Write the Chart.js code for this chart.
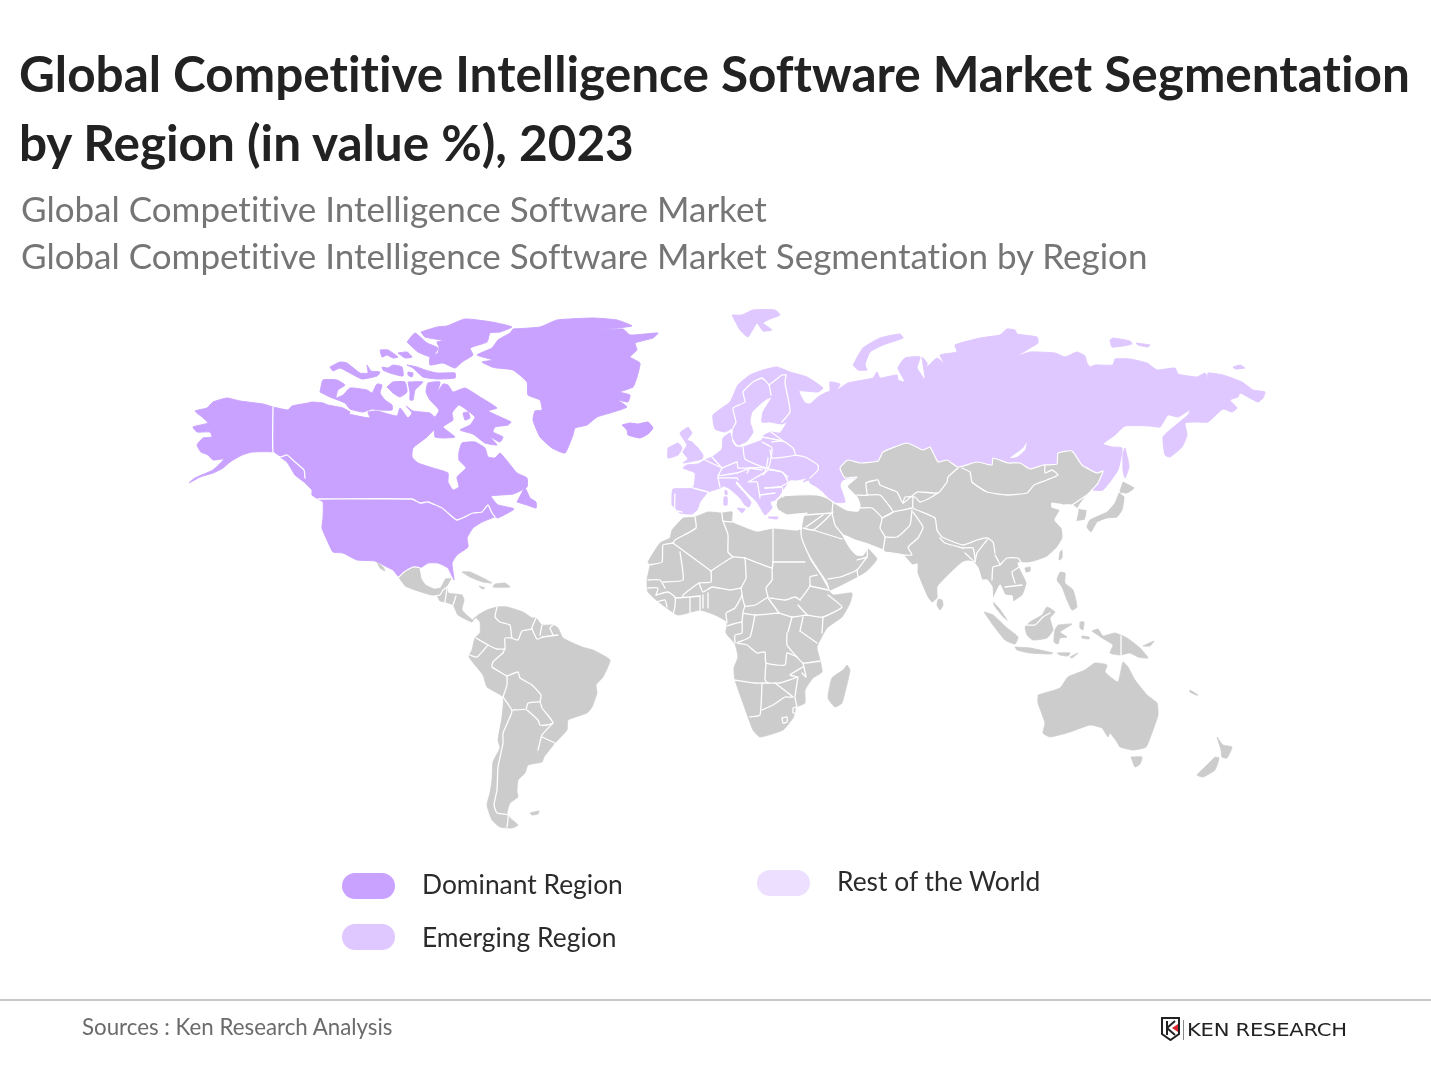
<!DOCTYPE html>
<html lang="en">
<head>
<meta charset="utf-8">
<title>Global Competitive Intelligence Software Market Segmentation by Region</title>
<script src="https://cdn.jsdelivr.net/npm/chart.js@4/dist/chart.umd.js"></script>
<style>
  html, body { margin: 0; padding: 0; background: #fff; }
  body { position: relative; width: 1431px; height: 1073px; overflow: hidden; font-family: Lato, sans-serif; font-variant-ligatures: none; }
  #map { position: absolute; left: 0; top: 0; }
  .txt { position: absolute; white-space: nowrap; }
  #title { left: 19px; top: 39px; font-size: 49.5px; line-height: 69px; font-weight: 700; color: #222; }
  #subtitle { left: 21px; top: 185px; font-size: 35px; line-height: 47px; color: #757575; }
  .pill { position: absolute; width: 53px; height: 26px; border-radius: 13px; }
  .legend-label { font-size: 26.4px; line-height: 32px; color: #2b2b2b; }
  #rule { position: absolute; left: 0; top: 999px; width: 1431px; height: 2px; background: #c8c8c8; }
  #source { left: 82px; top: 1013px; font-size: 22.3px; line-height: 28px; color: #6b6b6b; }
  #brand { left: 1187px; top: 1018px; font-family: "DejaVu Sans", sans-serif; font-size: 17px; line-height: 24px; color: #222; letter-spacing: -0.2px; transform-origin: left center; transform: scaleX(1.24); }
  #shield { position: absolute; left: 1161px; top: 1017px; }
  #sep { position: absolute; left: 1183px; top: 1020px; width: 1px; height: 20px; background: #888; }
</style>
</head>
<body>
<canvas id="map" width="1431" height="1073"></canvas>
<div class="txt" id="title">Global Competitive Intelligence Software Market Segmentation<br>by Region (in value %), 2023</div>
<div class="txt" id="subtitle">Global Competitive Intelligence Software Market<br>Global Competitive Intelligence Software Market Segmentation by Region</div>
<div id="legend"></div>
<div id="rule"></div>
<div class="txt" id="source">Sources : Ken Research Analysis</div>
<svg id="shield" width="20" height="24" viewBox="0 0 20 24">
  <path d="M1 1 H18 V17 L9.5 23 L1 17 Z" fill="#fff" stroke="#222" stroke-width="2"/>
  <path d="M6 4 V18 M6 11 L14 4 M6 11 L14 18" fill="none" stroke="#222" stroke-width="2"/>
  <path d="M17 7 L11 11 L17 15 Z" fill="#d8232a"/>
</svg>
<div id="sep"></div>
<div class="txt" id="brand">KEN RESEARCH</div>

<script>
// ── Legend ───────────────────────────────────────────────────
const legendLabels = ['Dominant Region', 'Emerging Region', 'Rest of the World'];
const legendColors = ['#c9a2ff', '#dfc7ff', '#ecdfff'];
const landGrey = '#cccccc';

// ── Outlines (map units) ─────────────────────────────────────
const northAmerica = [[273,407],[288,410],[292,406],[308,403],[312,402],[323,403],[328,405],[343,408],[350,412],[349,414],[370,418],[368,412],[377,411],[397,416],[400,408],[408,418],[412,413],[406,406],[413,411],[430,413],[435,417],[439,410],[430,400],[426,392],[428,383],[440,382],[437,393],[443,384],[448,385],[453,392],[465,388],[480,397],[497,408],[488,411],[511,422],[508,425],[495,427],[493,432],[503,437],[500,442],[490,437],[497,445],[485,443],[473,434],[460,430],[470,425],[475,417],[459,405],[452,413],[453,420],[443,427],[455,437],[443,438],[435,437],[434,430],[427,437],[413,448],[412,457],[418,463],[433,468],[448,473],[448,482],[453,490],[459,487],[457,477],[466,468],[459,460],[459,452],[462,443],[475,442],[485,448],[488,457],[495,458],[500,453],[508,462],[517,473],[527,478],[527,487],[513,494],[491,496],[495,502],[498,505],[514,509],[498,518],[495,517],[482,522],[473,528],[467,538],[468,547],[457,555],[452,563],[454,580],[448,568],[438,563],[428,563],[420,568],[413,567],[404,572],[400,578],[393,570],[387,567],[375,561],[357,560],[343,553],[333,552],[327,540],[322,528],[323,518],[323,502],[318,499],[312,495],[312,490],[304,482],[295,475],[287,462],[280,457],[273,452],[252,452],[242,455],[230,462],[223,468],[213,473],[200,477],[189,483],[195,478],[213,470],[224,459],[213,460],[208,455],[201,452],[197,445],[203,438],[212,437],[210,432],[197,432],[193,427],[208,423],[202,417],[195,411],[207,408],[213,402],[227,398],[240,401],[263,404]];
const foxeIsland = [[463,413],[468,412],[470,418],[465,420]];
const banksVictoria = [[320,392],[323,380],[337,380],[345,385],[338,390],[336,398],[343,395],[350,388],[367,390],[372,393],[377,384],[382,385],[380,393],[385,400],[392,405],[392,410],[380,410],[372,409],[363,412],[350,409],[345,403],[330,397]];
const princeOfWales = [[387,387],[393,382],[405,382],[407,392],[400,397],[393,393]];
const somerset = [[408,382],[423,382],[415,390],[413,400],[410,400],[410,392]];
const melville = [[330,367],[340,362],[347,363],[360,373],[368,373],[367,365],[371,371],[380,372],[377,376],[362,379],[350,373],[340,368],[333,371]];
const bathurst = [[382,367],[388,368],[393,365],[402,367],[403,376],[390,373],[383,370]];
const devon = [[407,365],[417,367],[425,370],[437,373],[455,373],[455,378],[437,379],[423,377],[413,368]];
const cornwallis = [[408,372],[413,373],[412,377],[408,375]];
const ellefRingnes = [[380,350],[388,350],[398,357],[393,358],[387,355],[382,357]];
const amundRingnes = [[398,353],[407,352],[412,357],[405,358]];
const axelHeiberg = [[407,342],[415,333],[427,343],[438,348],[432,357],[418,352]];
const ellesmere = [[421,332],[437,327],[447,326],[465,319],[492,322],[512,327],[500,332],[490,333],[487,342],[470,348],[473,355],[462,362],[455,368],[443,363],[430,365],[430,357],[438,353],[439,347],[437,342],[457,338],[443,340],[425,337]];
const greenland = [[513,329],[540,327],[557,320],[593,318],[617,320],[632,326],[597,330],[623,329],[630,335],[658,333],[653,338],[635,343],[637,350],[630,357],[640,363],[637,377],[633,387],[620,392],[630,395],[628,402],[618,400],[627,407],[610,413],[597,417],[587,425],[575,428],[573,435],[565,453],[552,448],[540,437],[533,420],[535,411],[542,410],[540,400],[528,395],[527,382],[513,370],[497,368],[492,367],[482,362],[493,360],[477,355],[492,348],[498,340],[510,333]];
const iceland = [[622,425],[630,423],[638,424],[648,422],[653,428],[648,434],[640,438],[628,435],[627,430]];
const newfoundland = [[517,502],[525,488],[530,498],[536,502],[536,508],[527,505]];

const eurasiaNorth = [[672,505],[672,495],[673,489],[693,488],[695,473],[683,468],[687,465],[698,464],[705,460],[712,457],[722,449],[723,438],[730,433],[732,442],[736,447],[743,447],[762,440],[763,436],[771,432],[780,433],[787,422],[782,424],[770,422],[762,422],[763,412],[772,397],[765,400],[752,412],[750,422],[753,432],[747,441],[738,445],[733,438],[733,428],[725,432],[715,429],[713,415],[730,402],[738,385],[750,375],[763,370],[777,367],[790,372],[807,377],[823,388],[818,392],[799,391],[805,403],[810,404],[818,397],[825,393],[830,391],[830,382],[840,384],[837,390],[848,383],[873,378],[877,372],[880,378],[897,375],[898,380],[905,382],[898,368],[905,358],[920,357],[917,368],[923,378],[917,392],[908,392],[920,385],[920,380],[925,378],[922,357],[927,363],[927,367],[937,358],[945,364],[940,355],[957,352],[955,345],[980,338],[1000,335],[1007,329],[1015,330],[1017,334],[1037,337],[1038,343],[1030,348],[1017,356],[1030,352],[1055,353],[1065,357],[1077,352],[1085,356],[1087,363],[1090,367],[1095,365],[1113,365],[1115,359],[1130,359],[1147,363],[1157,370],[1175,368],[1178,374],[1197,377],[1205,373],[1208,379],[1208,373],[1223,375],[1242,382],[1253,390],[1265,392],[1263,398],[1258,402],[1248,397],[1240,393],[1238,397],[1230,400],[1237,408],[1232,412],[1223,409],[1208,422],[1197,422],[1185,423],[1187,435],[1182,447],[1170,457],[1165,455],[1163,437],[1170,430],[1188,415],[1190,410],[1178,417],[1168,415],[1160,427],[1150,426],[1125,426],[1115,435],[1103,444],[1112,447],[1122,448],[1118,470],[1103,490],[1093,490],[1060,478],[900,478],[850,478],[843,480],[840,485],[845,502],[833,502],[823,492],[817,487],[810,483],[809,480],[803,482],[807,478],[797,480],[790,480],[783,490],[779,496],[775,500],[770,502],[772,508],[765,515],[760,507],[757,502],[745,490],[737,481],[735,483],[743,492],[751,502],[749,507],[745,505],[740,498],[730,489],[724,486],[720,488],[708,492],[707,493],[700,502],[697,510],[692,514],[680,513]];
const britain = [[688,427],[692,433],[687,440],[692,442],[698,448],[703,455],[702,459],[683,463],[688,459],[683,452],[687,445],[680,433]];
const ireland = [[668,448],[678,443],[682,448],[678,455],[668,458]];
const sicily = [[737,508],[745,509],[742,513]];
const sardinia = [[724,497],[727,497],[727,505],[724,505]];
const corsica = [[725,490],[727,491],[727,495],[725,494]];
const crete = [[768,517],[778,517],[777,519],[769,518]];
const svalbard = [[732,315],[742,315],[753,310],[775,310],[780,315],[770,319],[763,323],[772,330],[763,331],[757,323],[748,337],[740,330]];
const novayaZemlya = [[853,365],[863,348],[880,338],[900,334],[903,338],[883,345],[870,352],[865,365],[867,370],[858,370]];
const sakhalin = [[1125,448],[1128,460],[1129,467],[1125,478],[1123,470],[1123,453]];
const newSiberia = [[1110,340],[1113,338],[1130,341],[1132,344],[1123,346],[1112,347]];
const newSiberiaEast = [[1136,343],[1150,345],[1148,347],[1138,345]];
const wrangel = [[1233,367],[1240,365],[1245,368],[1235,369]];
const lakeBaikal = [[1027,442],[1023,448],[1010,458],[1017,457],[1025,450]];

const mexico = [[398,578],[404,572],[413,567],[420,568],[422,578],[426,584],[434,588],[440,587],[445,578],[452,578],[448,586],[443,590],[440,595],[432,596],[418,592],[405,587]];
const baja = [[377,562],[383,567],[385,571],[380,568]];
const latinAmerica = [[440,592],[447,588],[448,593],[462,595],[464,600],[462,610],[473,620],[478,615],[487,610],[497,607],[507,607],[523,612],[532,618],[536,618],[542,625],[553,625],[558,628],[563,638],[582,647],[593,650],[610,660],[603,677],[596,685],[597,693],[592,707],[587,713],[568,720],[567,730],[555,743],[544,757],[542,762],[528,765],[525,773],[518,780],[517,792],[518,797],[510,803],[507,813],[510,818],[518,825],[512,828],[500,827],[492,820],[487,805],[490,793],[492,780],[493,762],[500,748],[498,740],[502,717],[503,697],[487,687],[483,675],[469,657],[472,650],[475,638],[480,633],[480,622],[475,617],[472,622],[458,615],[453,605],[445,602],[440,601],[437,595]];
const cuba = [[462,572],[470,572],[483,578],[492,583],[483,582],[470,577]];
const hispaniola = [[495,584],[505,583],[510,587],[493,587]];
const jamaica = [[479,586],[485,588],[482,589]];
const falklands = [[530,813],[539,811],[538,814],[532,815]];

const africa = [[683,518],[695,517],[708,512],[722,513],[732,512],[732,522],[743,527],[757,532],[773,529],[797,531],[800,530],[803,542],[810,560],[820,575],[828,589],[833,595],[852,593],[850,603],[842,617],[827,628],[817,647],[820,660],[822,672],[813,678],[805,690],[805,703],[797,707],[793,718],[783,730],[760,737],[753,730],[748,717],[743,703],[735,680],[734,668],[738,657],[735,644],[726,633],[727,622],[715,615],[700,610],[678,615],[660,603],[648,592],[647,580],[650,565],[648,562],[660,543],[670,538],[672,530]];
const madagascar = [[847,665],[850,670],[842,703],[835,707],[828,698],[832,678],[843,670]];

const asia = [[777,500],[783,496],[797,495],[817,495],[827,498],[833,502],[847,510],[858,511],[860,505],[857,497],[847,487],[850,483],[857,477],[845,478],[840,468],[848,460],[860,463],[878,461],[883,452],[907,443],[923,450],[930,447],[938,462],[947,460],[958,467],[977,462],[992,465],[993,458],[1008,463],[1020,463],[1030,469],[1043,465],[1057,464],[1058,453],[1072,451],[1082,465],[1097,473],[1103,471],[1098,483],[1092,490],[1087,495],[1078,508],[1087,510],[1085,520],[1076,521],[1078,510],[1072,505],[1063,505],[1052,503],[1052,507],[1060,510],[1055,520],[1062,528],[1063,538],[1057,548],[1047,557],[1033,562],[1027,563],[1018,563],[1022,572],[1027,583],[1023,595],[1013,602],[1012,596],[1005,595],[1000,585],[996,593],[993,600],[1000,608],[1010,623],[1003,618],[993,605],[992,587],[987,580],[982,580],[978,568],[973,562],[967,561],[962,563],[947,577],[938,587],[938,598],[932,603],[927,597],[917,573],[917,564],[912,565],[903,555],[885,552],[883,550],[868,544],[855,540],[843,535],[850,548],[857,555],[863,555],[868,548],[878,559],[867,572],[857,578],[830,591],[827,583],[817,568],[810,557],[803,542],[801,533],[803,518],[805,514],[807,513],[787,515],[778,510],[776,505]];
const sriLanka = [[938,599],[942,600],[943,605],[940,610],[937,605]];
const hainan = [[1025,568],[1030,567],[1030,571],[1026,572]];
const taiwan = [[1060,552],[1062,550],[1062,558],[1059,560]];
const hokkaido = [[1123,482],[1134,488],[1127,493],[1120,492]];
const honshu = [[1119,493],[1124,497],[1122,510],[1117,517],[1107,518],[1097,522],[1091,532],[1087,527],[1090,520],[1107,512],[1115,503]];
const philippines = [[1060,572],[1065,573],[1065,583],[1073,590],[1077,607],[1072,610],[1067,600],[1062,587],[1057,580]];
const sumatra = [[984,612],[993,615],[1007,628],[1018,637],[1015,644],[1005,640],[993,625]];
const java = [[1015,647],[1030,648],[1053,653],[1050,654],[1030,653],[1017,650]];
const sunda = [[1057,653],[1070,653],[1068,656],[1060,655]];
const timor = [[1070,657],[1078,653],[1072,658]];
const borneo = [[1025,627],[1030,622],[1042,615],[1047,607],[1055,612],[1050,618],[1053,630],[1047,638],[1033,640],[1027,635]];
const sulawesi = [[1058,625],[1072,624],[1060,632],[1067,637],[1060,638],[1058,644],[1054,642],[1055,630]];
const halmahera = [[1080,622],[1084,622],[1083,630],[1080,628]];
const seram = [[1082,636],[1089,637],[1089,639],[1082,638]];
const newGuinea = [[1092,631],[1098,629],[1103,636],[1115,633],[1127,638],[1140,648],[1148,658],[1138,657],[1130,653],[1120,655],[1110,653],[1113,645],[1102,638]];
const newBritain = [[1143,646],[1154,641],[1150,646]];
const australia = [[1038,695],[1060,688],[1068,677],[1085,670],[1095,663],[1107,665],[1105,672],[1118,682],[1123,662],[1128,667],[1135,680],[1147,695],[1157,703],[1158,715],[1153,730],[1146,747],[1133,750],[1120,747],[1117,742],[1110,733],[1108,737],[1102,728],[1090,725],[1070,732],[1050,737],[1043,733],[1045,723],[1038,703]];
const tasmania = [[1131,757],[1142,757],[1140,764],[1135,767]];
const nzNorth = [[1217,737],[1223,745],[1232,747],[1227,758],[1222,757],[1221,750]];
const nzSouth = [[1215,757],[1219,758],[1215,770],[1203,777],[1197,775],[1205,767]];
const newCaledonia = [[1190,690],[1198,695],[1196,695],[1190,692]];

// ── Country borders ──────────────────────────────────────────
const bordersAmerica = [
  [[318,499],[412,499],[420,503],[428,502],[442,508],[448,513],[457,520],[473,513],[482,512],[488,505],[492,513],[495,517]],
  [[273,407],[273,452],[280,457],[287,455],[295,462],[304,470],[305,478]],
  [[497,607],[495,617],[500,622],[510,625],[512,638],[518,640],[522,631],[532,629]],
  [[536,618],[532,628],[537,639],[543,637]],
  [[542,625],[540,635]],
  [[553,625],[550,628],[553,635]],
  [[542,637],[558,635]],
  [[512,638],[505,638],[505,648],[503,653]],
  [[476,638],[488,645],[497,649],[505,649]],
  [[488,645],[477,657],[470,655]],
  [[503,653],[493,662],[492,667],[507,676]],
  [[507,676],[507,685],[503,697]],
  [[507,676],[518,672],[520,678],[532,685],[541,695],[540,702]],
  [[513,710],[526,709],[528,703],[540,702],[542,708],[550,718],[553,723],[547,725],[540,725],[538,720],[527,710]],
  [[503,697],[512,711],[503,733],[503,743],[498,767],[497,790],[494,805],[497,813],[508,815],[507,827]],
  [[553,723],[542,735],[538,750]],
  [[542,737],[555,743]],
  [[447,588],[445,602]],
  [[456,596],[453,605]]
];
const bordersEurope = [
  [[786,375],[785,383],[788,398],[790,412],[782,422]],
  [[733,428],[736,422],[733,408],[745,402],[743,392],[753,382],[762,378],[769,385],[771,395]],
  [[769,385],[782,375],[786,375]],
  [[762,437],[778,440],[783,441]],
  [[772,442],[783,441],[793,448],[795,455],[772,458],[770,450]],
  [[771,432],[782,440]],
  [[743,447],[745,459],[768,468],[772,448],[762,442]],
  [[795,455],[805,457],[818,465],[818,470],[810,478]],
  [[768,458],[767,468],[782,472],[788,477]],
  [[712,457],[722,468]],
  [[722,468],[737,462],[738,468],[750,468],[762,470]],
  [[718,476],[737,473],[750,468]],
  [[718,478],[737,478],[738,480]],
  [[747,473],[750,468],[765,468],[765,472],[748,482]],
  [[763,475],[768,470],[782,472],[788,482],[780,487],[765,488]],
  [[765,488],[782,487],[783,497]],
  [[750,482],[757,482],[760,498]],
  [[760,495],[775,493]],
  [[693,488],[708,492]],
  [[675,494],[675,510],[682,512]],
  [[718,478],[720,487]],
  [[705,460],[722,468]],
  [[722,468],[718,476]]
];
const bordersAfrica = [
  [[695,517],[696,528],[675,540],[673,543]],
  [[673,543],[663,545],[662,562],[649,565]],
  [[673,543],[711,571]],
  [[680,552],[683,580],[663,582]],
  [[711,571],[733,557],[745,558]],
  [[723,521],[728,535],[728,552],[733,557]],
  [[722,513],[723,521],[732,522]],
  [[773,529],[773,562]],
  [[773,562],[805,562]],
  [[745,558],[772,568],[773,562]],
  [[745,558],[746,578],[741,588]],
  [[711,571],[711,582],[699,583],[683,595],[683,597]],
  [[699,583],[703,592],[712,587],[730,590],[741,588]],
  [[708,593],[708,608]],
  [[741,588],[742,595],[735,608],[726,613],[727,622]],
  [[772,568],[772,580],[766,588],[768,597]],
  [[768,597],[755,605],[745,606],[742,595]],
  [[745,606],[743,613],[757,615],[779,613]],
  [[768,598],[779,613]],
  [[770,598],[785,600],[795,597],[800,600]],
  [[800,600],[810,586],[810,577],[817,575]],
  [[810,586],[828,590]],
  [[798,605],[807,615]],
  [[779,613],[792,617],[807,615]],
  [[807,615],[823,617],[842,607],[828,595]],
  [[823,617],[822,633]],
  [[792,617],[788,632]],
  [[803,617],[800,631]],
  [[800,631],[817,643]],
  [[787,633],[787,645],[797,657],[803,663],[820,661]],
  [[755,615],[750,637],[737,643],[747,645],[757,653],[765,652],[766,663],[785,665],[787,653],[797,657]],
  [[734,680],[755,683],[768,683]],
  [[766,663],[765,680],[768,683]],
  [[768,683],[780,683],[797,677],[790,675],[803,667]],
  [[803,663],[806,677],[802,673]],
  [[762,683],[760,715],[750,717]],
  [[762,710],[773,705],[785,697],[793,697],[775,683]],
  [[798,677],[795,697],[797,707]],
  [[782,718],[787,717],[787,722],[783,723],[782,718]],
  [[793,708],[796,707],[796,713],[793,713],[793,708]],
  [[648,580],[660,580],[665,588]],
  [[648,588],[658,588],[656,595]],
  [[656,595],[668,592],[675,597],[675,606],[673,615]],
  [[657,602],[665,600],[667,607]],
  [[675,598],[690,597],[700,596]],
  [[690,597],[690,613]],
  [[700,596],[700,610]],
  [[703,595],[703,608]],
  [[727,626],[733,624],[742,622]],
  [[742,622],[742,633],[735,635],[735,643]],
  [[743,613],[742,622]]
];
const bordersAsia = [
  [[857,495],[867,495],[866,483],[878,480],[880,485],[897,492],[903,503],[917,492],[938,493],[947,482],[948,477],[958,468]],
  [[962,468],[970,472],[972,482],[987,492],[1007,495],[1027,493],[1034,485],[1047,480],[1058,475],[1052,470],[1045,473],[1045,465]],
  [[1072,505],[1087,495]],
  [[867,495],[880,495],[893,512],[882,518]],
  [[860,508],[872,508],[882,518],[880,528],[885,537],[883,550]],
  [[882,518],[893,512],[912,508]],
  [[903,503],[905,497],[915,497],[920,502],[930,498],[938,493]],
  [[913,497],[913,508],[922,512]],
  [[885,537],[897,537],[910,525],[912,510]],
  [[913,512],[923,527],[918,538],[908,547],[912,555],[903,555]],
  [[922,512],[935,518],[937,530],[942,537],[963,545],[977,540],[987,538],[993,542],[995,553]],
  [[940,538],[945,543],[963,548]],
  [[963,548],[973,548],[975,562],[965,553]],
  [[987,540],[977,553],[975,562]],
  [[995,555],[1000,565],[993,567],[992,580]],
  [[1000,565],[1007,558],[1018,558],[1022,565],[1012,572],[1015,583]],
  [[1005,587],[1022,585]],
  [[832,513],[835,525],[843,535]],
  [[833,502],[832,513]],
  [[805,515],[832,513]],
  [[803,528],[813,530],[822,523],[833,512]],
  [[806,527],[823,515]],
  [[828,579],[840,577],[857,570],[867,557]],
  [[857,570],[858,577]],
  [[857,560],[867,557],[867,548]],
  [[813,530],[842,539]],
  [[1027,625],[1035,625],[1043,617],[1050,613]],
  [[1121,636],[1121,655]]
];

// ── Groups ───────────────────────────────────────────────────
const dominantShapes = [northAmerica, banksVictoria, princeOfWales, somerset, melville, bathurst, devon, cornwallis, ellefRingnes, amundRingnes, axelHeiberg, ellesmere, greenland, iceland, newfoundland, foxeIsland];
const emergingShapes = [eurasiaNorth, britain, ireland, sicily, sardinia, corsica, crete, svalbard, novayaZemlya, sakhalin, newSiberia, newSiberiaEast, wrangel];
const greyShapes = [baja, latinAmerica, cuba, hispaniola, jamaica, falklands, africa, madagascar, sriLanka, hainan, taiwan, hokkaido, honshu, philippines, sumatra, java, sunda, timor, borneo, sulawesi, halmahera, seram, newGuinea, newBritain, australia, tasmania, nzNorth, nzSouth, newCaledonia];
const outlinedShapes = [mexico, asia];
const allBorders = [...bordersAmerica, ...bordersEurope, ...bordersAfrica, ...bordersAsia];

// ── Datasets ─────────────────────────────────────────────────
const datasets = [];

function addShape(points, color, edgeColor, edgeWidth) {
  const closed = [...points, points[0]];
  datasets.push({
    data: closed.map(([x, y]) => ({ x, y })),
    showLine: true,
    fill: 'shape',
    tension: 0.15,
    pointRadius: 0,
    backgroundColor: color,
    borderColor: edgeColor,
    borderWidth: edgeWidth,
    borderJoinStyle: 'round',
    order: -datasets.length
  });
}

function addBorder(points) {
  datasets.push({
    data: points.map(([x, y]) => ({ x, y })),
    showLine: true,
    fill: false,
    tension: 0.15,
    pointRadius: 0,
    borderColor: '#ffffff',
    borderWidth: 1.3,
    borderJoinStyle: 'round',
    borderCapStyle: 'round',
    order: -datasets.length
  });
}

dominantShapes.forEach(s => addShape(s, legendColors[0], legendColors[0], 1));
emergingShapes.forEach(s => addShape(s, legendColors[1], legendColors[1], 1));
addShape(lakeBaikal, '#ffffff', '#ffffff', 0);
greyShapes.forEach(s => addShape(s, landGrey, landGrey, 0.8));
outlinedShapes.forEach(s => addShape(s, landGrey, '#ffffff', 1.2));
allBorders.forEach(addBorder);

// ── Chart ────────────────────────────────────────────────────
new Chart(document.getElementById('map').getContext('2d'), {
  type: 'scatter',
  data: { datasets },
  options: {
    responsive: false,
    animation: false,
    layout: { padding: 0 },
    plugins: { legend: { display: false }, tooltip: { enabled: false }, title: { display: false } },
    scales: {
      x: { type: 'linear', display: false, min: 0, max: 1431 },
      y: { type: 'linear', display: false, min: 0, max: 1073, reverse: true }
    }
  }
});

// ── HTML legend ──────────────────────────────────────────────
const legendSlots = [[342, 873, 868], [342, 924, 921], [757, 870, 865]];
const legendEl = document.getElementById('legend');
legendLabels.forEach((label, i) => {
  const [left, top, textTop] = legendSlots[i];
  legendEl.insertAdjacentHTML('beforeend', `
    <div class="pill" style="left:${left}px;top:${top}px;background:${legendColors[i]}"></div>
    <div class="txt legend-label" style="left:${left + 80}px;top:${textTop}px">${label}</div>`);
});
</script>
</body>
</html>
